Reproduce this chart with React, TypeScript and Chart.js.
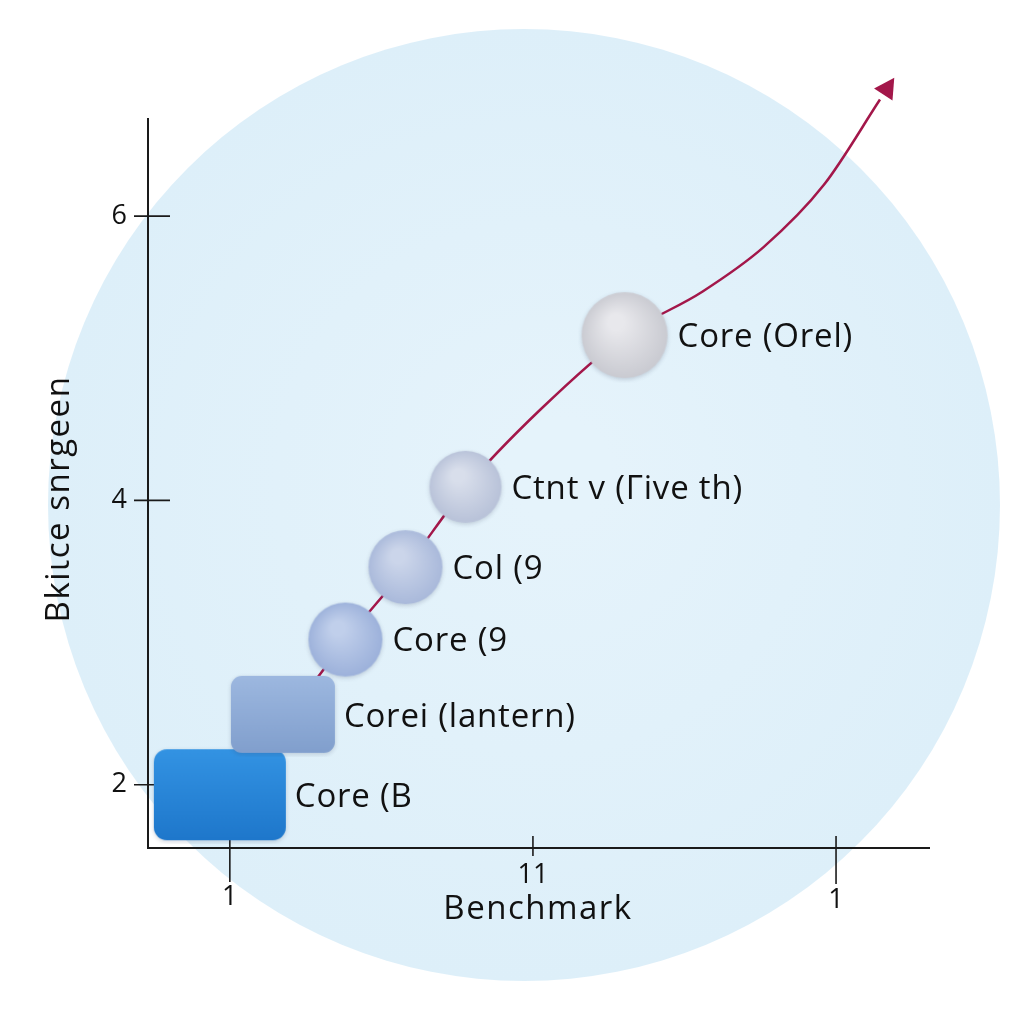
import React, { useEffect, useRef } from "react";
import { Chart, registerables } from "chart.js";

Chart.register(...registerables);

// ---- data ----
const chipLabels = ["Core (B", "Corei (lantern)", "Core (9", "Col (9", "Ctnt v (Γive th)", "Core (Orel)"];
const chipX = [0.967, 1.175, 1.383, 1.581, 1.779, 2.304];
const chipY = [1.93, 2.495, 3.018, 3.527, 4.092, 5.159];

const trendX = [1.29, 1.383, 1.581, 1.779, 2.023, 2.304, 2.56, 2.76, 2.96, 3.145];
const trendY = [2.756, 3.018, 3.527, 4.092, 4.636, 5.159, 5.47, 5.78, 6.22, 6.82];

const yTickValues = [2, 4, 6];
const yTickLabels = ["2", "4", "6"];
const xTickValues = [1, 2, 3];
const xTickLabels = ["1", "11", "1"];
const xTitle = "Benchmark";
const yTitle = "Bkiιce snrgeen";

// ---- styles ----
const FONT = "'Open Sans', 'Noto Sans', sans-serif";
const markerShapes = [
  { kind: "rect", w: 132, h: 91, r: 13, top: "#3393e3", bottom: "#1e77cb" },
  { kind: "rect", w: 104, h: 77, r: 11, top: "#9db8e0", bottom: "#819fcd" },
  { kind: "circle", w: 75, h: 75, r: 37, top: "#c0cfeb", bottom: "#9bb0da" },
  { kind: "circle", w: 75, h: 75, r: 37, top: "#cbd5ea", bottom: "#a8b8da" },
  { kind: "circle", w: 73, h: 73, r: 36, top: "#d8deeb", bottom: "#b7c1d8" },
  { kind: "circle", w: 87, h: 87, r: 43, top: "#e8e8ec", bottom: "#c8c9d0" },
];
const xTickAbove = [12, 12, 12];
const xTickBelow = [34, 8, 36];
const xTickLabelY = [897, 875, 900];

function makeMarker(s: any): HTMLCanvasElement {
  const pad = 4;
  const c = document.createElement("canvas");
  c.width = s.w + pad * 2;
  c.height = s.h + pad * 2;
  const ctx = c.getContext("2d")!;
  ctx.shadowColor = "rgba(60,70,100,0.22)";
  ctx.shadowBlur = 4;
  ctx.shadowOffsetY = 1.5;
  if (s.kind === "rect") {
    const g = ctx.createLinearGradient(0, pad, 0, pad + s.h);
    g.addColorStop(0, s.top);
    g.addColorStop(1, s.bottom);
    ctx.fillStyle = g;
    ctx.beginPath();
    (ctx as any).roundRect(pad, pad, s.w, s.h, s.r);
    ctx.fill();
  } else {
    const cx = pad + s.r;
    const cy = pad + s.r;
    const g = ctx.createRadialGradient(cx - s.r * 0.2, cy - s.r * 0.3, s.r * 0.2, cx, cy, s.r * 1.05);
    g.addColorStop(0, s.top);
    g.addColorStop(1, s.bottom);
    ctx.fillStyle = g;
    ctx.beginPath();
    ctx.arc(cx, cy, s.r, 0, Math.PI * 2);
    ctx.fill();
  }
  return c;
}

function setSpacing(ctx: any, v: string) {
  if ("letterSpacing" in ctx) ctx.letterSpacing = v;
}

const decorPlugin = {
  id: "decor",
  beforeDraw(chart: any) {
    const ctx = chart.ctx;
    ctx.save();
    ctx.fillStyle = "#ffffff";
    ctx.fillRect(0, 0, chart.width, chart.height);
    const g = ctx.createRadialGradient(560, 470, 50, 524, 505, 478);
    g.addColorStop(0, "#e5f3fb");
    g.addColorStop(1, "#ddeff9");
    ctx.fillStyle = g;
    ctx.beginPath();
    ctx.arc(524, 505, 476, 0, Math.PI * 2);
    ctx.fill();
    ctx.restore();
  },
  beforeDatasetsDraw(chart: any) {
    const ctx = chart.ctx;
    const xs = chart.scales.x;
    const ys = chart.scales.y;
    const area = chart.chartArea;
    ctx.save();
    ctx.strokeStyle = "#1a1a1a";
    ctx.lineWidth = 2;
    ctx.beginPath();
    ctx.moveTo(area.left, area.top);
    ctx.lineTo(area.left, area.bottom);
    ctx.lineTo(area.right, area.bottom);
    ctx.stroke();
    ctx.lineWidth = 1.6;
    ctx.fillStyle = "#111";
    ctx.font = `27px ${FONT}`;
    // y ticks
    yTickValues.forEach((v, i) => {
      const py = ys.getPixelForValue(v);
      ctx.beginPath();
      ctx.moveTo(area.left - 14, py);
      ctx.lineTo(area.left + 22, py);
      ctx.stroke();
      ctx.textAlign = "right";
      ctx.textBaseline = "middle";
      ctx.fillText(yTickLabels[i], area.left - 21, py);
    });
    // x ticks
    xTickValues.forEach((v, i) => {
      const px = xs.getPixelForValue(v);
      ctx.beginPath();
      ctx.moveTo(px, area.bottom - xTickAbove[i]);
      ctx.lineTo(px, area.bottom + xTickBelow[i]);
      ctx.stroke();
      ctx.textAlign = "center";
      ctx.textBaseline = "middle";
      ctx.fillText(xTickLabels[i], px, xTickLabelY[i]);
    });
    // titles
    ctx.font = `33px ${FONT}`;
    setSpacing(ctx, "1.5px");
    ctx.fillStyle = "#111";
    ctx.textAlign = "center";
    ctx.textBaseline = "middle";
    ctx.fillText(xTitle, 538, 910);
    ctx.translate(60, 499);
    ctx.rotate(-Math.PI / 2);
    ctx.fillText(yTitle, 0, 0);
    ctx.restore();
  },
  afterDatasetsDraw(chart: any) {
    const ctx = chart.ctx;
    ctx.save();
    // arrow head on trend
    const lmeta = chart.getDatasetMeta(1);
    const pts = lmeta.data;
    const a = pts[pts.length - 2];
    const b = pts[pts.length - 1];
    const ang = Math.atan2(b.y - a.y, b.x - a.x);
    const tipLen = 20;
    const half = 11;
    const tx = b.x + Math.cos(ang) * 6;
    const ty = b.y + Math.sin(ang) * 6;
    ctx.fillStyle = "#a3174a";
    ctx.beginPath();
    ctx.moveTo(tx + Math.cos(ang) * tipLen, ty + Math.sin(ang) * tipLen);
    ctx.lineTo(tx + Math.cos(ang + Math.PI / 2) * half, ty + Math.sin(ang + Math.PI / 2) * half);
    ctx.lineTo(tx + Math.cos(ang - Math.PI / 2) * half, ty + Math.sin(ang - Math.PI / 2) * half);
    ctx.closePath();
    ctx.fill();
    // labels
    const meta = chart.getDatasetMeta(0);
    ctx.font = `33px ${FONT}`;
    setSpacing(ctx, "0.8px");
    ctx.fillStyle = "#111";
    ctx.textAlign = "left";
    ctx.textBaseline = "middle";
    meta.data.forEach((el: any, i: number) => {
      const s = markerShapes[i];
      const dy = s.kind === "rect" ? 3 : 2;
      ctx.fillText(chipLabels[i], el.x + s.w / 2 + 9, el.y + dy);
    });
    ctx.restore();
  },
};

export default function App() {
  const ref = useRef<HTMLCanvasElement>(null);
  useEffect(() => {
    if (!ref.current) return;
    const markers = markerShapes.map(makeMarker);
    const chart = new Chart(ref.current, {
      type: "scatter",
      data: {
        datasets: [
          {
            label: "chips",
            data: chipX.map((x, i) => ({ x, y: chipY[i] })),
            pointStyle: markers as any,
            pointRadius: 40,
            clip: false as any,
          },
          {
            type: "line",
            label: "trend",
            data: trendX.map((x, i) => ({ x, y: trendY[i] })),
            showLine: true,
            borderColor: "#a3174a",
            borderWidth: 2.5,
            pointRadius: 0,
            tension: 0.4,
            cubicInterpolationMode: "monotone",
            clip: false as any,
          } as any,
        ],
      },
      options: {
        responsive: false,
        animation: false,
        layout: { padding: { left: 148, right: 94, top: 118, bottom: 176 } },
        plugins: { legend: { display: false }, tooltip: { enabled: false } },
        scales: {
          x: { type: "linear", min: 0.73, max: 3.31, display: false },
          y: { type: "linear", min: 1.555, max: 6.69, display: false },
        },
      },
      plugins: [decorPlugin],
    });
    return () => chart.destroy();
  }, []);
  return (
    <div style={{ position: "absolute", left: 0, top: 0, width: 1024, height: 1024 }}>
      <canvas ref={ref} width={1024} height={1024} />
    </div>
  );
}
